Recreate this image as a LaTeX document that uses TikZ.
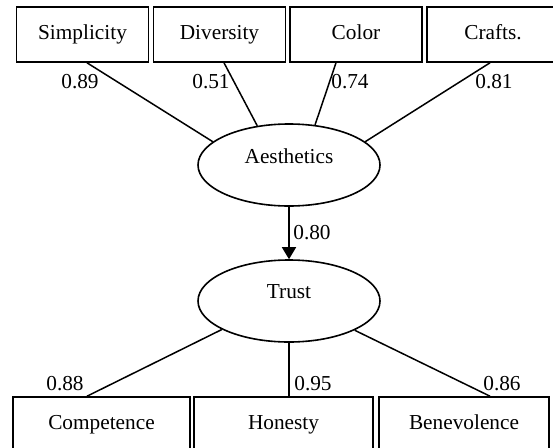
\documentclass[tikz,border=0pt]{standalone}
\usepackage{fontspec}
\setmainfont{Liberation Serif}
\usetikzlibrary{shapes.geometric, arrows.meta, calc}

\begin{document}
\begin{tikzpicture}[x=1pt, y=-1pt, >={Triangle[length=12pt, width=14pt]},
  box/.style={draw, line width=1.6pt, rectangle, minimum height=55pt, inner sep=0pt, text height=15pt, text depth=5pt},
  latent/.style={draw, line width=1.6pt, ellipse, minimum width=182pt, minimum height=82pt, text depth=18pt},
  load/.style={inner sep=0pt},
  every node/.style={font=\fontsize{21.3}{25}\selectfont}]

  % --- 1. 範囲 ---
  \useasboundingbox (0,0) rectangle (553,447);
  \clip (0,0) rectangle (553,447);

  % --- 2. 観測変数 (上) ---
  \node[box, minimum width=132pt] (simp)   at (82.5,34.5) {Simplicity};
  \node[box, minimum width=132pt] (div)    at (219.5,34.5) {Diversity};
  \node[box, minimum width=132pt] (color)  at (356,34.5) {Color};
  \node[box, minimum width=132pt] (crafts) at (493,34.5) {Crafts.};

  % --- 3. 潜在変数 ---
  \node[latent] (aes)   at (289,165) {Aesthetics};
  \node[latent] (trust) at (289,301) {Trust};

  % --- 4. 観測変数 (下) ---
  \node[box, minimum width=177pt] (comp) at (101.5,424.5) {Competence};
  \node[box, minimum width=179pt] (hon)  at (283.5,424.5) {Honesty};
  \node[box, minimum width=170pt] (ben)  at (464,424.5) {Benevolence};

  % --- 5. 因子負荷の線 ---
  \draw[line width=1.5pt] ($(simp.south)+(4.5,0)$) -- (aes.163);
  \draw[line width=1.5pt] ($(div.south)+(4.5,0)$) -- (aes.129);
  \draw[line width=1.5pt] ($(color.south)+(-20,0)$) -- (aes.57);
  \draw[line width=1.5pt] ($(crafts.south)+(-3,0)$) -- (aes.17);

  \draw[line width=1.5pt] ($(comp.north)+(-14.5,0)$) -- (trust.203);
  \draw[line width=1.5pt] ($(hon.north)+(5.5,0)$) -- (trust.south);
  \draw[line width=1.5pt] ($(ben.north)+(26,0)$) -- (trust.336);

  % 経路 Aesthetics -> Trust
  \draw[->, line width=1.5pt] (aes.south) -- (trust.north);

  % --- 6. 係数ラベル ---
  \node[load] (l-simp)   at (80,82)  {0.89};
  \node[load] (l-div)    at (211,82) {0.51};
  \node[load] (l-color)  at (350,82) {0.74};
  \node[load] (l-crafts) at (494,82) {0.81};
  \node[load] (l-path)   at (312,233) {0.80};
  \node[load] (l-comp)   at (65,384)  {0.88};
  \node[load] (l-hon)    at (313,384) {0.95};
  \node[load] (l-ben)    at (502,384) {0.86};

\end{tikzpicture}
\end{document}
